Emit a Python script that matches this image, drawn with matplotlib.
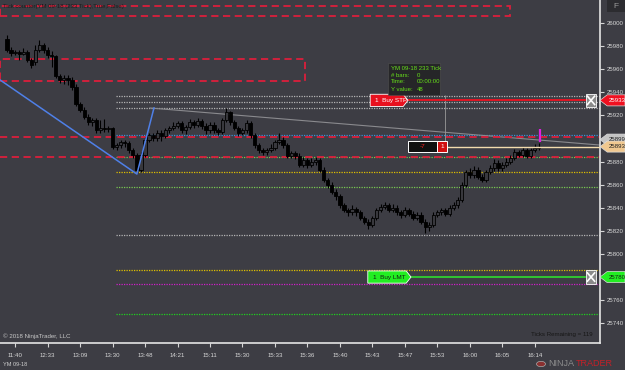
import matplotlib
matplotlib.use('Agg')
import matplotlib.pyplot as plt
from matplotlib.patches import Rectangle, Polygon, Circle

plt.rcParams['font.family'] = ['Liberation Sans', 'DejaVu Sans']

# ---------------- data ----------------
opens = [25986,25977,25974,25975,25973,25975,25968,25966,25977,25981,
         25977,25972,25971,25954,25951,25952,25951,25945,25930,25925,
         25919,25914,25916,25907,25909,25908,25909,25893,25894,25897,
         25896,25890,25886,25873,25886,25899,25903,25900,25905,25902,
         25907,25909,25911,25913,25907,25910,25914,25912,25915,25911,
         25907,25912,25907,25906,25916,25923,25914,25909,25905,25907,
         25913,25903,25894,25890,25888,25890,25892,25897,25899,25894,
         25885,25887,25885,25877,25881,25877,25880,25881,25873,25864,
         25860,25854,25850,25842,25838,25836,25839,25836,25831,25828,
         25825,25831,25838,25841,25842,25838,25840,25836,25834,25838,
         25835,25831,25834,25828,25823,25825,25834,25836,25838,25835,
         25840,25842,25847,25860,25871,25868,25873,25867,25864,25871,
         25874,25879,25874,25877,25880,25883,25888,25886,25890,25885,
         25890,25892]
closes = [25977,25974,25975,25973,25975,25968,25964,25977,25981,25977,
          25972,25971,25954,25951,25952,25951,25945,25930,25925,25919,
          25914,25916,25907,25909,25908,25909,25893,25894,25897,25896,
          25890,25886,25873,25886,25899,25903,25900,25905,25902,25907,
          25909,25911,25913,25907,25910,25914,25912,25915,25911,25907,
          25912,25907,25906,25916,25923,25914,25909,25905,25907,25913,
          25903,25894,25890,25888,25890,25892,25897,25899,25894,25885,
          25887,25885,25877,25881,25877,25880,25881,25873,25864,25860,
          25854,25850,25842,25838,25836,25839,25836,25831,25828,25825,
          25831,25838,25841,25842,25838,25840,25836,25834,25838,25835,
          25831,25834,25828,25823,25825,25834,25836,25838,25835,25840,
          25842,25847,25860,25871,25868,25873,25867,25864,25871,25874,
          25879,25874,25877,25880,25883,25888,25886,25890,25885,25890,
          25892,25893]
highs = [25990,25979,25977,25977,25978,25977,25970,25981,25985,25983,
         25979,25976,25972,25956,25955,25955,25953,25947,25932,25927,
         25921,25918,25918,25916,25917,25911,25910,25896,25899,25899,
         25898,25892,25887,25888,25901,25905,25905,25907,25907,25909,
         25911,25914,25915,25915,25912,25917,25916,25918,25917,25913,
         25914,25914,25909,25918,25926,25924,25916,25911,25909,25916,
         25915,25905,25896,25892,25892,25895,25899,25905,25901,25896,
         25889,25889,25887,25884,25883,25883,25884,25883,25875,25866,
         25862,25856,25852,25844,25840,25842,25841,25838,25833,25830,
         25833,25840,25843,25845,25844,25843,25842,25838,25841,25840,
         25837,25836,25836,25830,25828,25836,25838,25840,25840,25842,
         25845,25849,25862,25873,25874,25876,25875,25869,25873,25877,
         25882,25881,25880,25883,25886,25891,25890,25893,25892,25892,
         25895,25896]
lows = [25975,25971,25972,25968,25972,25966,25961,25964,25975,25974,
        25970,25962,25952,25948,25947,25946,25942,25928,25923,25917,
        25912,25911,25905,25905,25906,25906,25891,25890,25892,25893,
        25887,25883,25870,25871,25884,25897,25898,25898,25898,25900,
        25905,25907,25909,25905,25904,25908,25909,25910,25908,25904,
        25905,25905,25903,25904,25914,25912,25907,25902,25903,25905,
        25900,25892,25887,25886,25886,25888,25890,25895,25892,25883,
        25883,25882,25875,25875,25874,25875,25877,25871,25862,25857,
        25852,25847,25840,25836,25833,25834,25833,25829,25826,25822,
        25823,25829,25836,25839,25836,25836,25834,25831,25832,25833,
        25829,25829,25826,25818,25820,25823,25832,25834,25833,25833,
        25838,25840,25845,25858,25866,25866,25865,25862,25862,25869,
        25872,25872,25872,25875,25878,25881,25884,25884,25883,25883,
        25888,25890]

time_labels = ['11:40','12:33','13:09','13:30','13:48','14:21','15:11','15:30',
               '15:33','15:36','15:40','15:43','15:47','15:53','16:00','16:05','16:14']
time_tick_bars = [2,10,18,26,34,42,50,58,66,74,82,90,98,106,114,122,130]
price_ticks = [26000,25980,25960,25940,25920,25880,25860,25840,25820,25800,25760,25740]

# drawing-object levels (prices)
gray_levels = [25936.8, 25931.6, 25926.4, 25816.4]
blue_level = 25903.0
red_dash_levels = [25901.3, 25884.0]
yellow_levels = [25871.0, 25786.1]
lightgreen_levels = [25884.0, 25858.0]
magenta_level = 25774.0
green_level = 25748.0
buy_stp_price = 25933
buy_lmt_price = 25780
position_price = 25893
trend_price = 25899
levels_start_bar = 26.85
blue_line_bars = [-1.72, 32.0, 36.2]
blue_line_prices = [25950.7, 25869.2, 25926.4]
gray_trend_bars = [35.2, 146.06]
gray_trend_prices = [25926.4, 25894.3]
rect1 = (-1.72, 26006.0, 123.9, 26014.7)
rect2 = (-1.72, 25949.8, 73.4, 25968.8)

BG = '#3d3d44'
RED = '#dc1f3c'
TXT = '#d6d6d6'

fig = plt.figure(figsize=(6.25, 3.7), dpi=100, facecolor=BG)
ax = fig.add_axes([0, 27/370, 600/625, 343/370], facecolor=BG)
ax.set_xlim(-1.72, 146.06)
ax.set_ylim(25722.9, 26019.9)

# ---------- horizontal drawing objects ----------
xr = ax.get_xlim()[1]
for p in gray_levels:
    ax.hlines(p, levels_start_bar, xr, colors='#b4b4b4', lw=0.9, linestyles=(0, (1, 1)), zorder=1)
ax.hlines(blue_level, levels_start_bar, xr, colors='#3a90d8', lw=0.9, linestyles=(0, (1, 1)), zorder=1)
for p in lightgreen_levels:
    ax.hlines(p, levels_start_bar, xr, colors='#78c850', lw=0.9, linestyles=(0, (1, 1)), zorder=1)
for p in red_dash_levels:
    ax.hlines(p, -1.72, xr, colors=RED, lw=1.3, linestyles=(0, (4, 2.5)), zorder=1.5)
for p in yellow_levels:
    ax.hlines(p, levels_start_bar, xr, colors='#e0c000', lw=0.9, linestyles=(0, (1, 1)), zorder=1)
ax.hlines(magenta_level, levels_start_bar, xr, colors='#d020c8', lw=0.9, linestyles=(0, (1, 1)), zorder=1)
ax.hlines(green_level, levels_start_bar, xr, colors='#20d020', lw=0.9, linestyles=(0, (1, 1)), zorder=1)

for (x0, y0, x1, y1) in (rect1, rect2):
    ax.add_patch(Rectangle((x0, y0), x1 - x0, y1 - y0, fill=False, ec=RED, lw=1.3,
                           ls=(0, (4, 2.5)), zorder=1.5))

ax.plot(blue_line_bars, blue_line_prices, color='#4f80e8', lw=1.1, zorder=5)
ax.plot(gray_trend_bars, gray_trend_prices, color='#8a8a8e', lw=0.8, zorder=1)

# ---------- candles ----------
xs = list(range(len(closes)))
ax.vlines(xs, lows, highs, colors='black', lw=0.8, zorder=3)
bottoms = [min(o, c) for o, c in zip(opens, closes)]
heights = [max(abs(c - o), 0.8) for o, c in zip(opens, closes)]
fcols = ['#38383d' if c >= o else '#000000' for o, c in zip(opens, closes)]
ax.bar(xs, heights, bottom=bottoms, width=0.8, color=fcols, edgecolor='black', lw=0.6, zorder=4)

# vertical cursor line and magenta marker
ax.vlines(107.9, 25892.6, 25937.6, colors='#9a9a9a', lw=0.6, zorder=2)
ax.vlines(131.3, 25897, 25908, colors='#e020e0', lw=1.6, zorder=6)

# ---------- axes styling ----------
for s in ('left', 'top'):
    ax.spines[s].set_visible(False)
for s in ('right', 'bottom'):
    ax.spines[s].set_color('#e4e4e4')
    ax.spines[s].set_linewidth(1.2)
ax.yaxis.tick_right()
ax.set_yticks(price_ticks)
ax.set_yticklabels([str(t) for t in price_ticks])
ax.set_xticks(time_tick_bars)
ax.set_xticklabels(time_labels)
ax.tick_params(axis='y', colors=TXT, labelsize=4.4, length=3, width=0.8, pad=2)
ax.tick_params(axis='x', colors=TXT, labelsize=4.4, length=3, width=0.8, pad=4)

ytr = ax.get_yaxis_transform()
H = 4.8  # half height of tags in price units


def price_tag(price, text, fc, tc):
    ax.add_patch(Polygon([(1.0, price), (1.012, price + H), (1.0417, price + H),
                          (1.0417, price - H), (1.012, price - H)], closed=True,
                         transform=ytr, fc=fc, ec='#dddddd', lw=0.5, clip_on=False, zorder=10))
    ax.text(1.028, price, text, transform=ytr, ha='center', va='center', fontsize=4.4,
            color=tc, clip_on=False, zorder=11)


def order_tag(price, x0, x1, text, fc, tc, lc):
    ax.plot([x1, 0.975], [price, price], transform=ytr, color=lc, lw=1.3, zorder=7)
    ax.add_patch(Polygon([(x0, price - H * 1.1), (x1, price - H * 1.1), (x1 + 0.008, price),
                          (x1, price + H * 1.1), (x0, price + H * 1.1)], closed=True,
                         transform=ytr, fc=fc, ec='white', lw=0.6, zorder=8))
    ax.text(x0 + 0.008, price, text, transform=ytr, ha='left', va='center', fontsize=4.6,
            color=tc, zorder=9)
    ax.add_patch(Rectangle((0.976, price - H * 1.2), 0.018, H * 2.4, transform=ytr,
                           fc='#8a8a8a', ec='white', lw=0.6, zorder=8))
    ax.plot([0.979, 0.991], [price - H * 0.75, price + H * 0.75], transform=ytr, color='white', lw=1.2, zorder=9)
    ax.plot([0.979, 0.991], [price + H * 0.75, price - H * 0.75], transform=ytr, color='white', lw=1.2, zorder=9)


order_tag(buy_stp_price, 0.617, 0.672, '1  Buy STP', '#e8101e', 'white', '#f01020')
order_tag(buy_lmt_price, 0.613, 0.677, '1  Buy LMT', '#22ee22', '#102010', '#30d030')

# position box
ax.plot([0.745, 1.0], [position_price, position_price], transform=ytr, color='#f3dcae', lw=1.0, zorder=7)
ax.add_patch(Rectangle((0.68, position_price - H), 0.048, 2 * H, transform=ytr,
                       fc='#101010', ec='white', lw=0.7, zorder=8))
ax.text(0.704, position_price, '-7', transform=ytr, ha='center', va='center', fontsize=4.6,
        color='#ff2020', zorder=9)
ax.add_patch(Rectangle((0.728, position_price - H), 0.017, 2 * H, transform=ytr,
                       fc='#d01010', ec='white', lw=0.7, zorder=8))
ax.text(0.7365, position_price, '1', transform=ytr, ha='center', va='center', fontsize=4.6,
        color='white', zorder=9)

price_tag(buy_stp_price, '25933', '#f01020', 'white')
price_tag(trend_price, '25899', '#c4c4c4', '#202020')
price_tag(position_price, '25893', '#f0c890', '#202020')
price_tag(buy_lmt_price, '25780', '#22ee22', '#102010')

# tooltip
ax.add_patch(Rectangle((0.6467, 25937.6), 0.0866, 27.7, transform=ytr, fc='#262628',
                       ec='#505050', lw=0.4, zorder=12, clip_on=False))
tip_rows = [('YM 09-18 233 Tick', ''), ('# bars:', '0'), ('Time:', '00:00:00'), ('Y value:', '48')]
tip_prices = [25961.0, 25954.9, 25948.9, 25942.8]
for (a, b), p in zip(tip_rows, tip_prices):
    ax.text(0.651, p, a, transform=ytr, ha='left', va='center', fontsize=4.3, color='#66e01a', zorder=13)
    if b:
        ax.text(0.695, p, b, transform=ytr, ha='left', va='center', fontsize=4.3, color='#66e01a', zorder=13)

# texts
ax.text(0.005, 0.9825, 'Tick counter(YM 09-18 (233 Tick),True,False)', transform=ax.transAxes,
        ha='left', va='center', fontsize=4.3, color='#1c1c1c', zorder=12)
ax.text(0.005, 0.02, '\u00a9 2018 NinjaTrader, LLC', transform=ax.transAxes, ha='left', va='center',
        fontsize=4.4, color='#c8c8c8', zorder=12)
ax.text(0.988, 0.026, 'Ticks Remaining = 119', transform=ax.transAxes, ha='right', va='center',
        fontsize=4.4, color='#161616', zorder=12)

fig.text(3/625, (370 - 364)/370, 'YM 09-18', ha='left', va='center', fontsize=4.0, color='#d0d0d0')
fig.patches.append(Rectangle((607/625, 358/370), 18/625, 12/370, transform=fig.transFigure,
                             fc='#2c2c30', ec='none'))
fig.text(616/625, (370 - 6)/370, 'F', ha='center', va='center', fontsize=6, color='#9a9a9a')
fig.patches.append(Circle((541/625, 6/370), 4.5/625, transform=fig.transFigure, fc='#8a3030', ec='#aaaaaa', lw=0.5))
fig.text(548/625, (370 - 364)/370, 'NINJA', ha='left', va='center', fontsize=6.5, color='#8c8c8c')
fig.text(576/625, (370 - 364)/370, 'TRADER', ha='left', va='center', fontsize=6.5, color='#c42028')

fig.savefig('out.png', dpi=100, facecolor=BG)
